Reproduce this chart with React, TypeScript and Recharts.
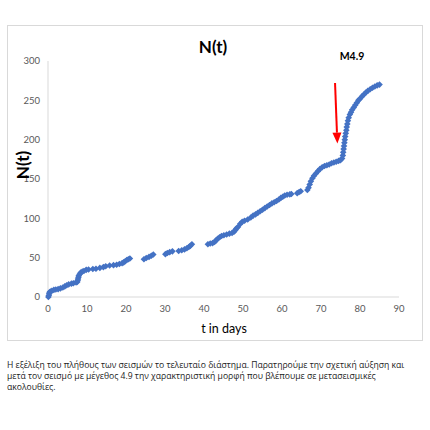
import { ScatterChart, Scatter, XAxis, YAxis, ReferenceLine } from "recharts";

// event times (days) and cumulative count N(t)
const tDays = [
  0.1, 0.2, 0.3, 0.4, 0.6, 1.0, 1.5, 2.0, 2.6, 3.2, 3.8, 4.3, 4.8, 5.3, 6.0, 6.5, 7.2,
  7.5, 7.6, 7.7, 7.8, 7.9, 8.1, 8.4, 8.8, 9.2, 9.8, 10.4, 11.5, 12.3, 13.3, 14.2, 14.8,
  15.8, 16.8, 17.6, 18.3, 19.0, 19.4, 19.8, 20.2, 20.6, 21.0,
  24.6, 25.2, 25.9, 26.5, 27.0, 30.1, 30.6, 31.2, 31.9, 33.5, 34.3, 35.0, 35.6, 36.1, 36.5, 36.9,
  41.0, 41.6, 42.2, 42.7, 43.1, 43.5, 44.0, 44.5, 45.1, 45.8, 46.5, 47.2, 47.7, 48.0, 48.3, 48.7,
  49.3, 49.8, 50.4, 51.2, 52.0, 52.6, 53.2, 53.8, 54.4, 55.0, 55.6, 56.2, 56.8, 57.4, 58.0,
  58.6, 59.2, 59.7, 60.2, 60.7, 61.3, 62.0, 62.4, 63.9, 64.4, 64.8,
  66.5, 66.8, 67.1, 67.4, 67.8, 68.2, 68.7, 69.2, 69.7, 70.3, 70.9, 71.5, 72.1, 72.7, 73.3,
  73.9, 74.5, 75.0, 75.4, 75.6, 75.7, 75.8, 75.9, 76.0, 76.1, 76.2, 76.35, 76.5, 76.6, 76.75,
  76.9, 77.1, 77.4, 77.7, 78.0, 78.4, 78.8, 79.2, 79.6, 80.0, 80.5, 81.0, 81.5, 82.0, 82.6,
  83.2, 83.8, 84.4, 85.0,
];
const nCount = [
  0, 2, 4, 6, 7, 8, 9, 9.5, 10, 11, 12, 13.5, 15, 16, 17, 17.5, 18.5,
  19, 21, 23, 25, 27, 29, 31, 32.5, 33, 34.5, 35, 35.5, 36, 37, 38, 39,
  40, 40.5, 41, 42, 43, 44, 45.5, 47, 48, 49,
  48, 49.5, 51, 52.5, 54, 54.5, 56, 57, 58, 58.5, 59.5, 60.5, 62, 63.5, 65, 67,
  67, 68, 68.5, 70, 72, 74, 76, 77.5, 78.5, 79.5, 80.5, 81.5, 83, 85, 87, 89,
  93, 95.5, 97, 98.5, 101, 103.5, 105, 107, 109, 111, 113, 115, 117, 119, 120.5,
  122, 124, 126, 127.5, 129, 130, 130.5, 131, 132, 133.5, 134.5,
  136, 139, 143, 147, 151, 154, 157, 160, 162.5, 165, 166.5, 167.5, 168.5, 170, 171,
  172, 173, 174, 176, 180, 184, 188, 192, 196, 200, 204, 208, 212, 216, 220,
  224, 228, 232, 235, 238, 241, 244, 247, 250, 252, 255, 257.5, 260, 262, 264,
  266, 267.5, 269, 270,
];
const xTicks = [0, 10, 20, 30, 40, 50, 60, 70, 80, 90];
const yTicks = [0, 50, 100, 150, 200, 250, 300];
// arrow pointing at the M4.9 event (data units)
const arrowFrom = { x: 73.6, y: 272 };
const arrowTo = { x: 74.2, y: 195 };

const caption = [
  "Η εξέλιξη του πλήθους των σεισμών  το τελευταίο διάστημα. Παρατηρούμε την σχετική αύξηση και",
  "μετά τον σεισμό με μέγεθος 4.9 την χαρακτηριστική μορφή που βλέπουμε σε μετασεισμικές",
  "ακολουθίες.",
];

const points = tDays.map((t, i) => ({ t, n: nCount[i] }));

const BLUE = "#4472C4";
const FONT = "Lato, 'Open Sans', sans-serif";

const Diamond = (props: any) => {
  const { cx, cy } = props;
  const r = 3.3;
  return (
    <polygon
      points={`${cx},${cy - r} ${cx + r},${cy} ${cx},${cy + r} ${cx - r},${cy}`}
      fill={BLUE}
    />
  );
};

const Arrow = (props: any) => {
  const { x1, y1, x2, y2 } = props;
  const ang = Math.atan2(y2 - y1, x2 - x1);
  const len = 11;
  const half = 4.5;
  const bx = x2 - len * Math.cos(ang);
  const by = y2 - len * Math.sin(ang);
  const px = -Math.sin(ang) * half;
  const py = Math.cos(ang) * half;
  return (
    <g>
      <line x1={x1} y1={y1} x2={bx} y2={by} stroke="#FF0000" strokeWidth={2} />
      <polygon
        points={`${x2},${y2} ${bx + px},${by + py} ${bx - px},${by - py}`}
        fill="#FF0000"
      />
    </g>
  );
};

const App = () => {
  const tick = { fontSize: 9.5, fill: "#595959", fontFamily: FONT };
  return (
    <div style={{ position: "absolute", left: 0, top: 0, width: 430, height: 430, background: "#fff" }}>
      <div
        style={{
          position: "absolute",
          left: 7,
          top: 25,
          width: 414,
          height: 314,
          border: "1px solid #d9d9d9",
        }}
      />
      <div style={{ position: "absolute", left: 0, top: 0 }}>
        <ScatterChart width={430} height={340} margin={{ top: 61, right: 31, bottom: 13, left: 8 }}>
          <XAxis
            type="number"
            dataKey="t"
            domain={[0, 90]}
            ticks={xTicks}
            tickLine={false}
            axisLine={{ stroke: "#d9d9d9" }}
            tick={tick}
            height={30}
          />
          <YAxis
            type="number"
            dataKey="n"
            domain={[0, 300]}
            ticks={yTicks}
            tickLine={false}
            axisLine={{ stroke: "#d9d9d9" }}
            tick={tick}
            width={40}
          />
          <Scatter data={points} shape={<Diamond />} isAnimationActive={false} />
          <ReferenceLine segment={[arrowFrom, arrowTo]} shape={<Arrow />} />
        </ScatterChart>
      </div>
      <svg width={430} height={430} style={{ position: "absolute", left: 0, top: 0, pointerEvents: "none" }}>
        <text x={213} y={46} textAnchor="middle" dominantBaseline="central" fontFamily={FONT} fontWeight="bold" fontSize={17} fill="#000">
          N(t)
        </text>
        <text x={352} y={56} textAnchor="middle" dominantBaseline="central" fontFamily={FONT} fontWeight="bold" fontSize={10.5} fill="#000">
          M4.9
        </text>
        <text
          x={22}
          y={165}
          textAnchor="middle"
          dominantBaseline="central"
          fontFamily={FONT}
          fontWeight="bold"
          fontSize={17}
          fill="#000"
          transform="rotate(-90 22 165)"
        >
          N(t)
        </text>
        <text x={224} y={328} textAnchor="middle" dominantBaseline="central" fontFamily={FONT} fontSize={12.5} fill="#000">
          t in days
        </text>
        {caption.map((line, i) => (
          <text key={i} x={7} y={365 + i * 11} dominantBaseline="central" fontFamily="'Open Sans', sans-serif" fontSize={8.6} fill="#222">
            {line}
          </text>
        ))}
      </svg>
    </div>
  );
};

export default App;
